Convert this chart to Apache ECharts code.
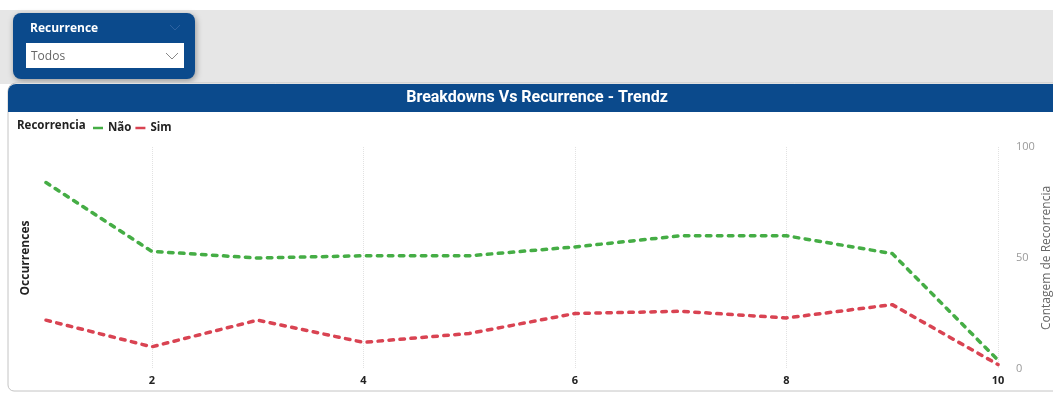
<!DOCTYPE html>
<html>
<head>
<meta charset="utf-8">
<script src="https://cdn.jsdelivr.net/npm/echarts@6/dist/echarts.min.js"></script>
<style>
  html, body { margin: 0; padding: 0; background: #ffffff; }
  #chart { width: 1053px; height: 394px; }
</style>
</head>
<body>
<div id="chart"></div>
<script>
const categories = ['1', '2', '3', '4', '5', '6', '7', '8', '9', '10'];
const naoValues = [84, 53, 50, 51, 51, 55, 60, 60, 52, 4];
const simValues = [22, 10, 22, 12, 16, 25, 26, 23, 29, 2];
const seriesNames = ['Não', 'Sim'];
const rightAxisMin = 0;
const rightAxisMax = 100;
const rightAxisInterval = 50;
const titleText = 'Breakdowns Vs Recurrence - Trendz';
const slicerTitle = 'Recurrence';
const slicerValue = 'Todos';
const legendTitle = 'Recorrencia';

const BLUE = '#0b4a8c';
const GREEN = '#45ad45';
const RED = '#d94352';
const UI_FONT = '"Open Sans", "Noto Sans", sans-serif';

const chart = echarts.init(document.getElementById('chart'));
const evenOnly = (idx, val) => Number(val) % 2 === 0;

chart.setOption({
  animation: false,
  backgroundColor: '#ffffff',
  graphic: [
    { type: 'rect', z: -20, shape: { x: 0, y: 10, width: 1053, height: 74 }, style: { fill: '#e6e6e6' } },
    { type: 'rect', z: -19, shape: { x: 13, y: 13, width: 182, height: 66, r: 8 },
      style: { fill: BLUE, shadowBlur: 6, shadowOffsetX: 1, shadowOffsetY: 2, shadowColor: 'rgba(0,0,0,0.35)' } },
    { type: 'text', z: -18, x: 30, y: 29, style: { text: slicerTitle, fill: '#ffffff', font: 'bold 12px ' + UI_FONT, verticalAlign: 'middle' } },
    { type: 'polyline', z: -18, shape: { points: [[170, 25], [175, 30], [180, 25]] }, style: { stroke: '#2e62a0', lineWidth: 1, fill: null } },
    { type: 'rect', z: -18, shape: { x: 26, y: 43, width: 158, height: 25 }, style: { fill: '#ffffff' } },
    { type: 'text', z: -17, x: 31, y: 57, style: { text: slicerValue, fill: '#666666', font: '12px ' + UI_FONT, verticalAlign: 'middle' } },
    { type: 'polyline', z: -17, shape: { points: [[166, 53], [172, 59], [178, 53]] }, style: { stroke: '#888888', lineWidth: 1, fill: null } },
    { type: 'rect', z: -16, shape: { x: 8, y: 83, width: 1060, height: 308, r: [8, 0, 0, 6] },
      style: { fill: '#ffffff', stroke: '#c4c4c4', lineWidth: 1 } },
    { type: 'rect', z: -15, shape: { x: 8, y: 84, width: 1060, height: 28, r: [8, 0, 0, 0] }, style: { fill: BLUE } },
    { type: 'text', z: -14, x: 537, y: 98, style: { text: titleText, fill: '#ffffff', font: 'bold 16px Roboto, sans-serif', align: 'center', verticalAlign: 'middle' } },
    { type: 'text', z: -14, x: 17, y: 126, style: { text: legendTitle, fill: '#222222', font: 'bold 11.5px ' + UI_FONT, verticalAlign: 'middle' } }
  ],
  legend: {
    data: seriesNames,
    left: 88,
    top: 117,
    icon: 'rect',
    itemWidth: 10,
    itemHeight: 2.5,
    itemGap: 4,
    textStyle: { color: '#222222', fontWeight: 'bold', fontSize: 11.5, fontFamily: UI_FONT }
  },
  grid: { left: 46, right: 55, top: 147, bottom: 25, containLabel: false, outerBoundsMode: 'none' },
  xAxis: {
    type: 'category',
    data: categories,
    boundaryGap: false,
    axisLine: { show: false },
    axisTick: { show: false },
    axisLabel: { interval: evenOnly, color: '#222222', fontWeight: 'bold', fontSize: 11, fontFamily: UI_FONT, margin: 6 },
    splitLine: { show: true, interval: evenOnly, lineStyle: { type: 'dotted', color: '#e2e2e2', width: 1 } }
  },
  yAxis: [
    {
      type: 'value', position: 'left', min: rightAxisMin, max: rightAxisMax,
      axisLine: { show: false }, axisTick: { show: false }, axisLabel: { show: false }, splitLine: { show: false },
      name: 'Occurrences', nameLocation: 'middle', nameGap: 14,
      nameTextStyle: { color: '#222222', fontWeight: 'bold', fontSize: 12, fontFamily: UI_FONT }
    },
    {
      type: 'value', position: 'right', min: rightAxisMin, max: rightAxisMax, interval: rightAxisInterval,
      axisLine: { show: false }, axisTick: { show: false }, splitLine: { show: false },
      axisLabel: { color: '#9a9a9a', fontSize: 11, fontFamily: UI_FONT, margin: 18 },
      name: 'Contagem de Recorrencia', nameLocation: 'middle', nameGap: 43, nameMoveOverlap: false,
      nameTextStyle: { color: '#666666', fontSize: 12, fontFamily: UI_FONT }
    }
  ],
  series: [
    {
      name: seriesNames[0], type: 'line', yAxisIndex: 1, data: naoValues,
      showSymbol: false, symbol: 'none', color: GREEN,
      lineStyle: { color: GREEN, width: 3.5, type: [4.5, 6.5], cap: 'round' }
    },
    {
      name: seriesNames[1], type: 'line', yAxisIndex: 1, data: simValues,
      showSymbol: false, symbol: 'none', color: RED,
      lineStyle: { color: RED, width: 3.5, type: [4.5, 6.5], cap: 'round' }
    }
  ]
});
</script>
</body>
</html>
